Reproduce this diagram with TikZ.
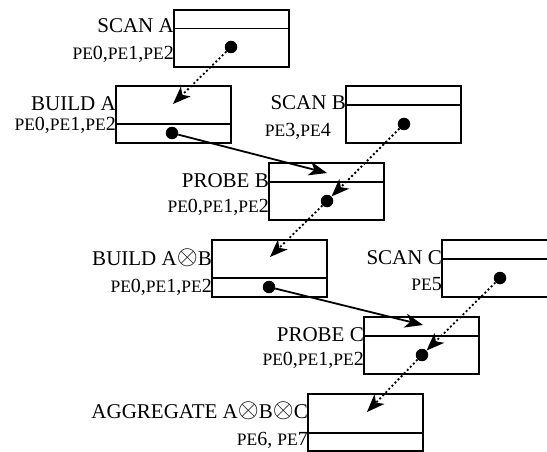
\documentclass[tikz,border=0pt]{standalone}
\usepackage{fontspec}
\setmainfont{Liberation Serif}
\usetikzlibrary{arrows.meta}

% smaller capitals for the processing-element tags
\newcommand{\PEtag}{{\fontsize{17.5}{17.5}\selectfont PE}}
\newcommand{\opname}[1]{{\fontsize{21}{21}\selectfont #1}}
\newcommand{\pelist}[1]{{\fontsize{20}{20}\selectfont #1}}
\newcommand{\jn}{\raisebox{0.2pt}{\scalebox{1.3}{$\otimes$}}}

\tikzset{
  opbox/.style={draw, line width=1.6pt, minimum width=115pt, minimum height=57pt,
                anchor=north west, inner sep=0pt, outer sep=0pt},
  divider/.style={line width=1.6pt},
  dotmark/.style={circle, fill=black, inner sep=0pt, minimum size=12.5pt},
  oplabel/.style={anchor=base east, inner sep=0pt},
  flow/.style={line width=1.8pt, -{Stealth[length=18pt,width=14pt,inset=5pt]}},
  feed/.style={line width=1.8pt, dash pattern=on 2pt off 2.4pt,
               -{Stealth[length=18pt,width=14pt,inset=5pt,line width=0pt]}},
}

\begin{document}
\begin{tikzpicture}[x=1pt, y=-1pt]
  \clip (0,0) rectangle (547,452);

  % operator boxes
  \node[opbox] (scanA)  at (174,10)  {};
  \node[opbox] (buildA) at (116,86)  {};
  \node[opbox] (scanB)  at (346,86)  {};
  \node[opbox] (probeB) at (269,163) {};
  \node[opbox] (buildAB) at (212,240) {};
  \node[opbox] (scanC)  at (442,240) {};
  \node[opbox] (probeC) at (364,317) {};
  \node[opbox] (aggr)   at (308,394) {};

  % section dividers: narrow header for scans/probes, narrow footer for builds
  \draw[divider] ([yshift=-18.5pt]scanA.north west)  -- ([yshift=-18.5pt]scanA.north east);
  \draw[divider] ([yshift=19pt]buildA.south west)    -- ([yshift=19pt]buildA.south east);
  \draw[divider] ([yshift=-19pt]scanB.north west)    -- ([yshift=-19pt]scanB.north east);
  \draw[divider] ([yshift=-19pt]probeB.north west)   -- ([yshift=-19pt]probeB.north east);
  \draw[divider] ([yshift=19pt]buildAB.south west)   -- ([yshift=19pt]buildAB.south east);
  \draw[divider] ([yshift=-19pt]scanC.north west)    -- ([yshift=-19pt]scanC.north east);
  \draw[divider] ([yshift=-19pt]probeC.north west)   -- ([yshift=-19pt]probeC.north east);
  \draw[divider] ([yshift=18pt]aggr.south west)      -- ([yshift=18pt]aggr.south east);

  % operator names
  \node[oplabel] (lscanA)   at ([yshift=-23pt]scanA.north west)   {\opname{SCAN A}};
  \node[oplabel] (lbuildA)  at ([yshift=-25pt]buildA.north west)  {\opname{BUILD A}};
  \node[oplabel] (lscanB)   at ([yshift=-24pt]scanB.north west)   {\opname{SCAN B}};
  \node[oplabel] (lprobeB)  at ([yshift=-24pt]probeB.north west)  {\opname{PROBE B}};
  \node[oplabel] (lbuildAB) at ([yshift=-25pt]buildAB.north west) {\opname{BUILD A\jn B}};
  \node[oplabel] (lscanC)   at ([yshift=-24pt]scanC.north west)   {\opname{SCAN C}};
  \node[oplabel] (lprobeC)  at ([yshift=-24pt]probeC.north west)  {\opname{PROBE C}};
  \node[oplabel] (laggr)    at ([yshift=-24pt]aggr.north west)    {\opname{AGGREGATE A\jn B\jn C}};

  % processing elements
  \node[oplabel] (pscanA)   at ([yshift=-50pt]scanA.north west)   {\pelist{\PEtag0,\PEtag1,\PEtag2}};
  \node[oplabel] (pbuildA)  at ([yshift=-45pt]buildA.north west)  {\pelist{\PEtag0,\PEtag1,\PEtag2}};
  \node[oplabel] (pscanB)   at ([xshift=-15pt,yshift=-50pt]scanB.north west) {\pelist{\PEtag3,\PEtag4}};
  \node[oplabel] (pprobeB)  at ([yshift=-49pt]probeB.north west)  {\pelist{\PEtag0,\PEtag1,\PEtag2}};
  \node[oplabel] (pbuildAB) at ([yshift=-52pt]buildAB.north west) {\pelist{\PEtag0,\PEtag1,\PEtag2}};
  \node[oplabel] (pscanC)   at ([yshift=-50pt]scanC.north west)   {\pelist{\PEtag5}};
  \node[oplabel] (pprobeC)  at ([yshift=-48pt]probeC.north west)  {\pelist{\PEtag0,\PEtag1,\PEtag2}};
  \node[oplabel] (paggr)    at ([yshift=-51pt]aggr.north west)    {\pelist{\PEtag6, \PEtag7}};

  % output points
  \node[dotmark] (dscanA)   at (231,47)  {};
  \node[dotmark] (dbuildA)  at (172,133) {};
  \node[dotmark] (dscanB)   at (404,124) {};
  \node[dotmark] (dprobeB)  at (327,201) {};
  \node[dotmark] (dbuildAB) at (269,287) {};
  \node[dotmark] (dscanC)   at (500,278) {};
  \node[dotmark] (dprobeC)  at (422,355) {};

  % input points
  \coordinate (ibuildA)  at (173,104);
  \coordinate (iprobeB)  at (327,173);
  \coordinate (ibuildAB) at (270,257);
  \coordinate (iprobeC)  at (423,325);
  \coordinate (iaggr)    at (367,412);

  % data flow
  \draw[feed] (dscanA) -- (ibuildA);
  \draw[flow] (dbuildA) -- (iprobeB);
  \draw[feed] (dscanB) -- (dprobeB);
  \draw[feed] (dprobeB) -- (ibuildAB);
  \draw[flow] (dbuildAB) -- (iprobeC);
  \draw[feed] (dscanC) -- (dprobeC);
  \draw[feed] (dprobeC) -- (iaggr);
\end{tikzpicture}
\end{document}
